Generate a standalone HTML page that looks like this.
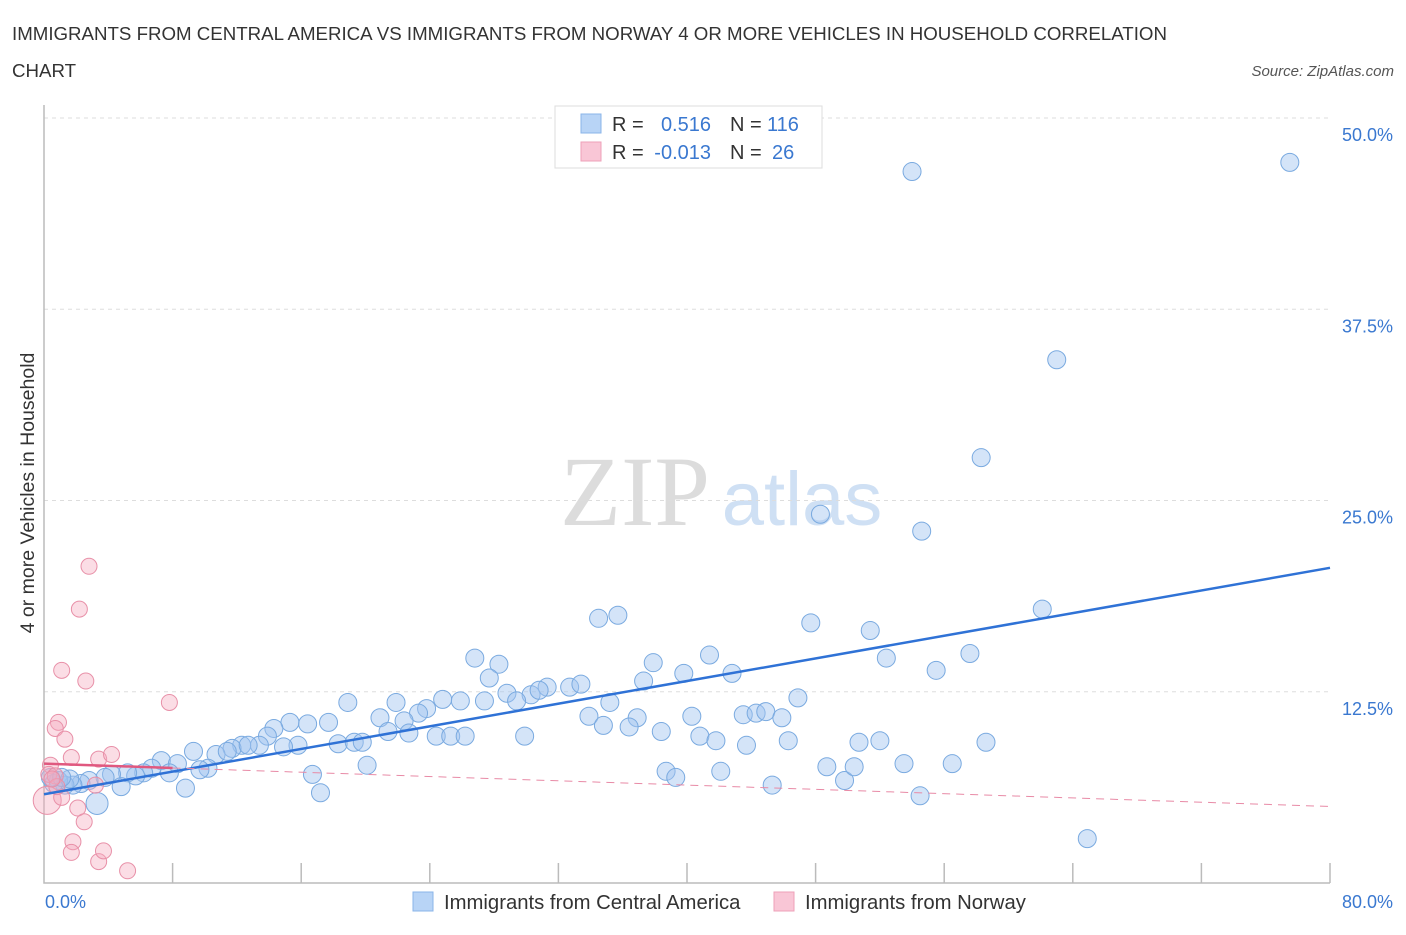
<!DOCTYPE html>
<html><head><meta charset="utf-8"><style>
body{margin:0;background:#fff;font-family:"Liberation Sans",sans-serif;}
svg text{font-family:"Liberation Sans",sans-serif;}
</style></head><body>
<svg id="chart" width="1406" height="930" xmlns="http://www.w3.org/2000/svg">
<text x="12" y="40" font-size="18.7" fill="#333">IMMIGRANTS FROM CENTRAL AMERICA VS IMMIGRANTS FROM NORWAY 4 OR MORE VEHICLES IN HOUSEHOLD CORRELATION</text>
<text x="12" y="77" font-size="18.7" fill="#333">CHART</text>
<text x="1394" y="76" font-size="15" fill="#555" font-style="italic" text-anchor="end">Source: ZipAtlas.com</text>
<text transform="translate(34,493) rotate(-90)" font-size="19.5" fill="#333" text-anchor="middle">4 or more Vehicles in Household</text>
<g>
<text x="635" y="525" font-size="100" fill="#dcdcdc" style="font-family:'Liberation Serif',serif" text-anchor="middle">ZIP</text>
<text x="802" y="525" font-size="76" fill="#cfe0f4" text-anchor="middle">atlas</text>
</g>
<g id="grid"></g>
<g id="axes"></g>
<g id="pts"></g>
<g id="lines"></g>
<g>
<rect x="555" y="106" width="267" height="62" fill="#fff" stroke="#ddd"/>
<rect x="581" y="114" width="20" height="19" fill="#b8d4f6" stroke="#8ab4e8"/>
<rect x="581" y="142" width="20" height="19" fill="#f9c6d6" stroke="#eea0b8"/>
<text x="612" y="131" font-size="20" fill="#333">R =</text>
<text x="711" y="131" font-size="20" fill="#3a78d0" text-anchor="end">0.516</text>
<text x="730" y="131" font-size="20" fill="#333">N =</text>
<text x="767" y="131" font-size="20" fill="#3a78d0">116</text>
<text x="612" y="159" font-size="20" fill="#333">R =</text>
<text x="711" y="159" font-size="20" fill="#3a78d0" text-anchor="end">-0.013</text>
<text x="730" y="159" font-size="20" fill="#333">N =</text>
<text x="772" y="159" font-size="20" fill="#3a78d0">26</text>
</g>
<g>
<rect x="413" y="892" width="20" height="19" fill="#b8d4f6" stroke="#8ab4e8"/>
<text x="444" y="909" font-size="20.3" fill="#333">Immigrants from Central America</text>
<rect x="774" y="892" width="20" height="19" fill="#f9c6d6" stroke="#eea0b8"/>
<text x="805" y="909" font-size="20.3" fill="#333">Immigrants from Norway</text>
</g>
</svg>
<script>
const blueX=[54.0,77.5,63.0,58.3,48.3,54.6,62.1,47.7,51.4,34.5,35.7,26.8,28.3,37.9,41.4,39.8,52.4,55.5,57.6,42.8,46.9,18.9,21.9,24.8,25.9,28.8,30.3,31.3,30.8,32.7,33.4,37.3,27.7,35.2,29.4,27.4,23.8,23.3,20.9,22.4,17.7,15.3,16.4,14.3,13.9,33.9,36.9,40.3,43.5,44.3,44.9,45.9,34.8,36.4,21.4,22.7,24.4,25.3,26.2,29.9,38.4,40.8,41.8,43.7,46.3,50.7,52.0,58.6,18.3,19.3,19.8,15.8,14.9,13.4,12.3,11.7,10.7,9.3,11.4,12.7,7.3,8.3,20.1,16.7,17.2,8.8,10.2,9.7,7.8,6.7,6.2,5.7,5.2,4.2,3.8,4.8,38.7,39.3,42.1,45.3,48.7,49.8,50.4,53.5,56.5,54.5,64.9,3.3,2.8,2.3,1.8,1.3,0.9,0.6,0.4,1.6,1.1];
const blueY=[46.5,47.1,34.2,27.8,24.1,23.0,17.9,17.0,16.5,17.3,17.5,14.7,14.3,14.4,14.9,13.7,14.7,13.9,15.0,13.7,12.1,11.8,11.8,12.0,11.9,12.4,12.3,12.8,12.6,12.8,13.0,13.2,13.4,11.8,11.9,11.9,11.4,11.1,10.8,10.6,10.5,10.5,10.4,10.1,9.6,10.9,10.8,10.9,11.0,11.1,11.2,10.8,10.3,10.2,9.9,9.8,9.6,9.6,9.6,9.6,9.9,9.6,9.3,9.0,9.3,9.2,9.3,9.2,9.1,9.2,9.2,9.0,8.9,9.0,9.0,8.8,8.4,8.6,8.6,9.0,8.0,7.8,7.7,7.1,5.9,6.2,7.5,7.4,7.2,7.5,7.2,7.0,7.2,7.1,6.9,6.3,7.3,6.9,7.3,6.4,7.6,6.7,7.6,7.8,7.8,5.7,2.9,5.2,6.7,6.5,6.4,6.4,6.7,6.5,6.9,6.8,6.9];
const pinkX=[2.8,2.2,1.1,2.6,7.8,0.9,0.7,1.3,1.7,3.4,4.2,0.4,0.3,0.7,0.2,1.1,2.1,2.5,1.8,1.7,3.4,3.7,5.2,3.2,0.8,0.5];
const pinkY=[20.7,17.9,13.9,13.2,11.8,10.5,10.1,9.4,8.2,8.1,8.4,7.7,7.1,7.0,5.4,5.6,4.9,4.0,2.7,2.0,1.4,2.1,0.8,6.4,6.3,6.8];
const blueTrend=[5.8,20.6];
const pinkTrend=[7.8,5.0];
const yTicks=[12.5,25.0,37.5,50.0];
const yTickLabels=["12.5%","25.0%","37.5%","50.0%"];
const xTicks=[0,8,16,24,32,40,48,56,64,72,80];

const NS="http://www.w3.org/2000/svg";
const sx=v=>44+v*(1286/80);
const sy=v=>883-v*(765/50);
function mk(t,a,p){const e=document.createElementNS(NS,t);for(const k in a)e.setAttribute(k,a[k]);p.appendChild(e);return e;}
const grid=document.getElementById('grid'),axes=document.getElementById('axes'),pts=document.getElementById('pts'),lines=document.getElementById('lines');
yTicks.forEach((v,i)=>{
 const l=mk('line',{x1:44,x2:1330,y1:sy(v),y2:sy(v),stroke:'#ddd','stroke-dasharray':'4,4'},grid);
 
 
 const t=mk('text',{x:1393,y:sy(v)+23,'font-size':18,fill:'#3a78d0','text-anchor':'end'},grid);
 t.textContent=yTickLabels[i];
 
 
});
const ax=mk('path',{d:`M44,105 V883 H1330`,fill:'none',stroke:'#bbb','stroke-width':1.5},axes);


xTicks.forEach(v=>{
 if(v===0)return;
 const l=mk('line',{x1:sx(v),x2:sx(v),y1:863,y2:883,stroke:'#bbb','stroke-width':1.5},axes);
 
 
});
const x0=mk('text',{x:45,y:908,'font-size':18,fill:'#3a78d0'},axes);x0.textContent='0.0%';


const x1=mk('text',{x:1393,y:908,'font-size':18,fill:'#3a78d0','text-anchor':'end'},axes);x1.textContent='80.0%';


blueX.forEach((x,i)=>{
 const r=(x<4&&blueY[i]<5.5)?11:9;
 const c=mk('circle',{cx:sx(x),cy:sy(blueY[i]),r:r,fill:'rgba(160,196,240,0.45)',stroke:'#7aaae0','stroke-width':1},pts);
 
 
});
pinkX.forEach((x,i)=>{
 const r=(x<0.3&&pinkY[i]<6)?14:8;
 const c=mk('circle',{cx:sx(x),cy:sy(pinkY[i]),r:r,fill:'rgba(245,170,190,0.4)',stroke:'#e890a8','stroke-width':1},pts);
 
 
});
const bl=mk('line',{x1:sx(0),y1:sy(blueTrend[0]),x2:sx(80),y2:sy(blueTrend[1]),stroke:'#2f72d6','stroke-width':2.5},lines);


const pAt=x=>pinkTrend[0]+(pinkTrend[1]-pinkTrend[0])*x/80;
const ps=mk('line',{x1:sx(0),y1:sy(pAt(0)),x2:sx(8),y2:sy(pAt(8)),stroke:'#e0587f','stroke-width':2.5},lines);


const pd=mk('line',{x1:sx(8),y1:sy(pAt(8)),x2:sx(80),y2:sy(pAt(80)),stroke:'#e88aa6','stroke-width':1,'stroke-dasharray':'8,6'},lines);


</script>
</body></html>
